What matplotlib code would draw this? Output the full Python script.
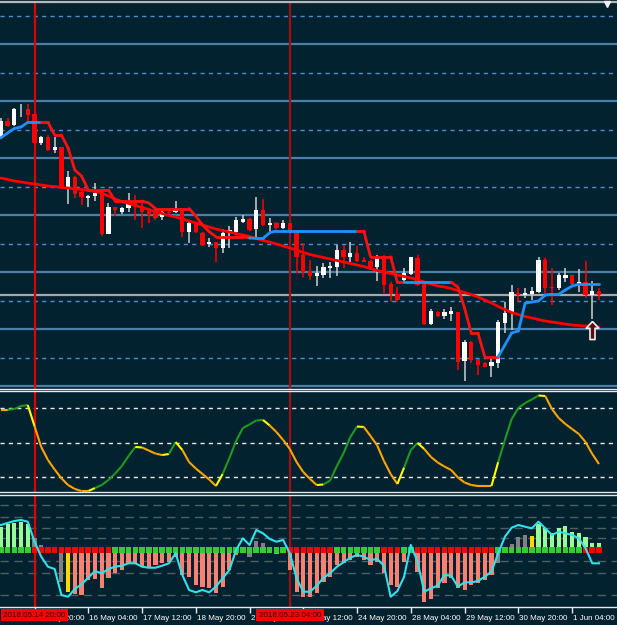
import matplotlib
matplotlib.use("Agg")
import matplotlib.pyplot as plt
import numpy as np
from matplotlib.collections import LineCollection
from matplotlib.path import Path
from matplotlib.transforms import ScaledTranslation, blended_transform_factory

# ---------------- data ----------------
opens = [1.19368, 1.19654, 1.19579, 1.19854, 1.19860, 1.19772, 1.19263, 1.19368, 1.19140, 1.19188,
         1.18456, 1.18672, 1.18409, 1.18304, 1.18333, 1.18398, 1.17667, 1.18140, 1.18053, 1.18118,
         1.18205, 1.18158, 1.18070, 1.18047, 1.17970, 1.18044, 1.18047, 1.18088, 1.17702, 1.17854,
         1.17679, 1.17491, 1.17521, 1.17416, 1.17679, 1.17696, 1.17872, 1.17930, 1.17749, 1.18088,
         1.17825, 1.17865, 1.17777, 1.17854, 1.17679, 1.17298, 1.17018, 1.16935, 1.16947, 1.17065,
         1.17093, 1.17386, 1.17268, 1.17328, 1.17211, 1.17193, 1.17082, 1.17268, 1.16784, 1.16614,
         1.16860, 1.16960, 1.17251, 1.16784, 1.16082, 1.16304, 1.16233, 1.16268, 1.16298, 1.15439,
         1.15777, 1.15474, 1.15409, 1.15356, 1.15398, 1.16100, 1.16275, 1.16626, 1.16596, 1.16609,
         1.16654, 1.17211, 1.16742, 1.16714, 1.16889, 1.16947, 1.16772, 1.16819, 1.16596, 1.16667]
highs = [1.19702, 1.19702, 1.19882, 1.19947, 1.19947, 1.19789, 1.19386, 1.19404, 1.19374, 1.19193,
         1.18772, 1.18684, 1.18426, 1.18351, 1.18561, 1.18404, 1.18205, 1.18149, 1.18146, 1.18381,
         1.18351, 1.18246, 1.18123, 1.18058, 1.18079, 1.18070, 1.18246, 1.18096, 1.17877, 1.17868,
         1.17707, 1.17591, 1.17535, 1.17749, 1.17812, 1.17970, 1.18000, 1.17939, 1.18311, 1.18281,
         1.17953, 1.17877, 1.17912, 1.17868, 1.17693, 1.17504, 1.17211, 1.17111, 1.17153, 1.17170,
         1.17474, 1.17474, 1.17532, 1.17461, 1.17263, 1.17202, 1.17298, 1.17298, 1.16830, 1.16742,
         1.17065, 1.17272, 1.17298, 1.16789, 1.16351, 1.16316, 1.16351, 1.16391, 1.16307, 1.15807,
         1.15798, 1.15482, 1.15421, 1.15486, 1.16158, 1.16479, 1.16772, 1.16714, 1.16714, 1.16742,
         1.17268, 1.17240, 1.17065, 1.16977, 1.17075, 1.16956, 1.17053, 1.17193, 1.16842, 1.16714]
lows = [1.19333, 1.19544, 1.19567, 1.19719, 1.19649, 1.19254, 1.19228, 1.19123, 1.19093, 1.18456,
        1.18193, 1.18298, 1.18175, 1.18146, 1.18246, 1.17637, 1.17658, 1.17988, 1.18018, 1.18058,
        1.17912, 1.17772, 1.17860, 1.17912, 1.17912, 1.18009, 1.18040, 1.17609, 1.17504, 1.17684,
        1.17456, 1.17444, 1.17181, 1.17328, 1.17426, 1.17649, 1.17860, 1.17719, 1.17574, 1.17807,
        1.17689, 1.17754, 1.17763, 1.17661, 1.16988, 1.16918, 1.16860, 1.16754, 1.16900, 1.16900,
        1.16935, 1.17065, 1.17170, 1.17184, 1.17167, 1.17079, 1.16842, 1.16626, 1.16468, 1.16468,
        1.16830, 1.16947, 1.16760, 1.16079, 1.16070, 1.16219, 1.16175, 1.16140, 1.15281, 1.15088,
        1.15404, 1.15193, 1.15325, 1.15163, 1.15311, 1.15925, 1.15982, 1.16479, 1.16539, 1.16509,
        1.16626, 1.16596, 1.16421, 1.16684, 1.16830, 1.16754, 1.16654, 1.16539, 1.16175, 1.16509]
closes = [1.19649, 1.19567, 1.19860, 1.19865, 1.19754, 1.19268, 1.19363, 1.19140, 1.19198, 1.18468,
          1.18672, 1.18363, 1.18321, 1.18339, 1.18386, 1.17667, 1.18140, 1.18082, 1.18118, 1.18205,
          1.18146, 1.18047, 1.18000, 1.17953, 1.18058, 1.18035, 1.18100, 1.17707, 1.17854, 1.17702,
          1.17474, 1.17532, 1.17426, 1.17689, 1.17737, 1.17912, 1.17930, 1.17737, 1.18088, 1.17825,
          1.17865, 1.17777, 1.17854, 1.17684, 1.17268, 1.17005, 1.16935, 1.16977, 1.17082, 1.17111,
          1.17386, 1.17268, 1.17328, 1.17198, 1.17181, 1.17093, 1.17268, 1.16772, 1.16609, 1.16509,
          1.16988, 1.17258, 1.16772, 1.16088, 1.16316, 1.16233, 1.16293, 1.16316, 1.15426, 1.15777,
          1.15456, 1.15368, 1.15339, 1.15426, 1.16128, 1.16275, 1.16654, 1.16596, 1.16637, 1.16667,
          1.17211, 1.16714, 1.16714, 1.16947, 1.16947, 1.16789, 1.16819, 1.16596, 1.16667, 1.16596]

ma_line = [1.18649, 1.18623, 1.18596, 1.18579, 1.18561, 1.18544, 1.18526, 1.18509, 1.18500, 1.18482,
           1.18474, 1.18456, 1.18447, 1.18430, 1.18412, 1.18386, 1.18333, 1.18281, 1.18237, 1.18202,
           1.18167, 1.18132, 1.18096, 1.18061, 1.18026, 1.17991, 1.17965, 1.17930, 1.17895, 1.17860,
           1.17825, 1.17789, 1.17754, 1.17728, 1.17702, 1.17675, 1.17649, 1.17623, 1.17588, 1.17553,
           1.17526, 1.17491, 1.17456, 1.17421, 1.17386, 1.17342, 1.17307, 1.17281, 1.17254, 1.17228,
           1.17202, 1.17175, 1.17149, 1.17123, 1.17096, 1.17061, 1.17026, 1.17000, 1.16974, 1.16947,
           1.16921, 1.16895, 1.16860, 1.16825, 1.16789, 1.16754, 1.16737, 1.16711, 1.16675, 1.16640,
           1.16605, 1.16561, 1.16509, 1.16456, 1.16395, 1.16342, 1.16289, 1.16254, 1.16219, 1.16193,
           1.16167, 1.16140, 1.16123, 1.16105, 1.16088, 1.16070, 1.16061, 1.16053, 1.16044, 1.16035]

trail = [1.19356, 1.19439, 1.19518, 1.19544, 1.19626, 1.19626, 1.19626, 1.19626, 1.19404, 1.19404,
         1.19175, 1.18789, 1.18684, 1.18439, 1.18439, 1.18439, 1.18439, 1.18246, 1.18246, 1.18246,
         1.18246, 1.18246, 1.18211, 1.18114, 1.18114, 1.18114, 1.18114, 1.18114, 1.18114, 1.17982,
         1.17825, 1.17707, 1.17619, 1.17619, 1.17619, 1.17619, 1.17619, 1.17596, 1.17591, 1.17591,
         1.17689, 1.17719, 1.17719, 1.17719, 1.17719, 1.17719, 1.17719, 1.17719, 1.17719, 1.17719,
         1.17719, 1.17719, 1.17719, 1.17719, 1.17719, 1.17268, 1.17268, 1.17268, 1.17268, 1.16819,
         1.16819, 1.16819, 1.16819, 1.16819, 1.16819, 1.16819, 1.16819, 1.16819, 1.16737, 1.16368,
         1.15925, 1.15925, 1.15514, 1.15514, 1.15514, 1.15719, 1.15930, 1.15965, 1.16451, 1.16474,
         1.16491, 1.16596, 1.16609, 1.16609, 1.16684, 1.16754, 1.16784, 1.16784, 1.16784, 1.16784]
trail_down_ranges = [(6, 37), (53, 60), (67, 74)]

osc = [78.3, 78.3, 79.1, 81.7, 82.6, 64.3, 46.1, 34.8, 26.5, 18.9,
       13.0, 9.6, 7.8, 7.8, 10.4, 13.0, 17.4, 23.0, 29.6, 38.3,
       46.1, 45.7, 43.0, 40.4, 39.1, 40.0, 50.4, 43.5, 33.0, 27.4,
       22.6, 17.8, 12.2, 22.6, 36.5, 51.3, 62.6, 65.7, 69.1, 69.6,
       64.8, 59.1, 52.2, 44.3, 33.0, 24.3, 18.3, 13.0, 13.5, 17.0,
       29.6, 40.9, 54.8, 63.9, 63.5, 55.7, 47.4, 33.9, 22.6, 13.9,
       28.3, 43.5, 49.6, 44.3, 37.4, 32.6, 29.1, 26.1, 19.6, 15.2,
       13.0, 12.2, 12.2, 12.2, 33.0, 52.2, 70.4, 80.0, 84.3, 87.4,
       90.9, 90.4, 79.1, 71.3, 66.1, 61.7, 57.4, 50.4, 40.0, 31.3]
osc_levels = [20, 50, 80]

hist = [23.3, 25.7, 26.7, 27.7, 25.7, 11.7, 5.0, -1.0, -2.0, -31.7,
        -41.7, -44.3, -45.0, -30.0, -29.0, -37.7, -28.3, -23.3, -20.0, -13.3,
        -13.3, -16.7, -16.7, -15.0, -13.3, -11.7, -6.7, -25.0, -26.7, -35.0,
        -36.7, -38.3, -43.3, -36.7, -20.0, -5.0, 0.0, -6.7, 9.0, 6.7,
        0.0, -4.3, 0.0, -20.0, -41.7, -46.7, -46.7, -43.3, -31.7, -26.7,
        -15.0, -13.3, -10.0, -6.7, -10.0, -15.0, -11.7, -23.3, -35.0, -36.7,
        -11.7, -3.3, -21.7, -52.3, -49.0, -38.3, -33.3, -28.3, -38.3, -40.0,
        -35.0, -33.3, -30.0, -25.0, -13.3, 1.0, 5.7, 13.3, 15.0, 14.3,
        25.7, 21.7, 16.7, 22.3, 24.0, 17.7, 16.7, 13.3, 6.7, 6.7]
hist_color_codes = ("GGGGGN" "NNNNY" "RRRRRRRRRRRRRRRRRRRRRRRR" "RRNNNRR"
                    "RRRRRRRRRRRRRRRRRRRRRRRRRRRRRRRR" "NNNNNY" "GGGGGGGGG")
signal = [25.0, 27.0, 29.0, 30.0, 28.3, 8.3, -6.7, -16.7, -19.0, -45.0,
          -46.7, -39.0, -34.3, -27.7, -21.0, -23.3, -19.0, -16.7, -15.7, -13.3,
          -13.3, -16.7, -17.7, -17.7, -15.7, -13.3, -3.3, -25.0, -40.0, -42.3,
          -40.0, -42.3, -36.7, -28.3, -20.0, 0.0, 11.7, 5.0, 20.0, 16.7,
          11.0, 8.3, 10.0, -3.3, -28.3, -41.7, -41.7, -35.7, -27.7, -23.3,
          -16.7, -12.3, -7.7, -5.0, -6.7, -10.0, -9.0, -15.7, -46.7, -41.0,
          -26.7, 5.0, -11.7, -41.7, -38.3, -35.7, -25.0, -25.7, -36.7, -32.3,
          -32.3, -31.0, -26.7, -21.7, -3.3, 13.3, 22.3, 25.0, 23.3, 21.7,
          28.3, 21.7, 15.0, 18.3, 16.7, 15.0, 11.7, 1.7, -13.3, -13.3]
zero_state = ("ggggg" "rrrrrrrrrrrr" "gggggggggggggggggggggggggg" "rrrrrrr"
              "ggggggg" "rrr" "gg" "rrrrrrrrrrrr" "ggggggggggggg" "rrr")
hist_levels = [45, 33, 22, 12, -11, -23, -45]

tick_bars = [5, 13, 21, 29, 37, 45, 53, 61, 69, 77, 85]
tick_labels = ["14 May 20:00", "16 May 04:00", "17 May 12:00", "18 May 20:00", "22 May 04:00",
               "23 May 12:00", "24 May 20:00", "28 May 04:00", "29 May 12:00", "30 May 20:00",
               "1 Jun 04:00"]
marker_bars = [5, 43]
marker_labels = ["2018.05.14 20:00", "2018.05.23 04:00"]
marker_colors = ["#e00000", "#a01010"]
major_levels = [1.15, 1.16, 1.17, 1.18, 1.19, 1.20, 1.21]
minor_levels = [1.155, 1.165, 1.175, 1.185, 1.195, 1.205, 1.215]
signal_bar, signal_price = 88, 1.1598

# ---------------- style ----------------
BG = "#03222f"
W, H = 617, 625
XMIN, XMAX = -0.134, 91.68
LABEL_FONT = dict(fontsize=5.8, fontfamily="Liberation Sans")

fig = plt.figure(figsize=(W / 100, H / 100), dpi=100, facecolor=BG)


def rect(top, bottom):
    return [0, 1 - bottom / H, 1, (bottom - top) / H]


ax = fig.add_axes(rect(2, 389))
axo = fig.add_axes(rect(391, 492))
axh = fig.add_axes(rect(494.5, 607))

for a in (ax, axo, axh):
    a.set_facecolor(BG)
    a.set_xlim(XMIN, XMAX)
    a.set_yticks([])
    for s in ("left", "right"):
        a.spines[s].set_visible(False)
    for s in ("top", "bottom"):
        a.spines[s].set_color("#e8e8e8")
        a.spines[s].set_linewidth(1)
    for b, c in zip(marker_bars, marker_colors):
        a.axvline(b, color=c, lw=1.6, zorder=1.3)
ax.spines["top"].set_color("#b8b8b8")
ax.spines["top"].set_linewidth(1.6)
ax.set_xticks([])
axo.set_xticks([])

x = np.arange(len(opens))
o = np.array(opens); h = np.array(highs); l = np.array(lows); c = np.array(closes)

# ---- main panel ----
ax.set_ylim(1.149474, 1.21737)
for lv in major_levels:
    ax.axhline(lv, color="#4a7fa8", lw=1.6, zorder=1)
for lv in minor_levels:
    ax.axhline(lv, color="#4a8fd6", lw=1, dashes=(3, 3), zorder=1)
ax.axhline(closes[-1], color="#a8a8a8", lw=1.6, zorder=1.2)

up = c >= o
body_bottom = np.minimum(o, c)
body_h = np.maximum(np.abs(c - o), 0.00004)
ax.vlines(x, l, h, colors=np.where(up, "#d0d0d0", "#ff0000"), lw=1.1, zorder=3)
ax.bar(x, body_h, bottom=body_bottom, width=0.64,
       color=np.where(up, "#ffffff", "#ff0000"), linewidth=0, zorder=3.1)

ax.plot(x, ma_line, color="#ff0000", lw=2, zorder=4, solid_capstyle="round")

tr = np.array(trail)
segs = [[(x[i], tr[i]), (x[i + 1], tr[i + 1])] for i in range(len(tr) - 1)]
seg_cols = []
for i in range(len(tr) - 1):
    down = any(a0 <= i < a1 for a0, a1 in trail_down_ranges)
    seg_cols.append("#ff1010" if down else "#1e90ff")
ax.add_collection(LineCollection(segs, colors=seg_cols, linewidths=2, zorder=4.2,
                                 capstyle="round"))

arrow = Path([(0, 1), (0.7, 0.25), (0.28, 0.25), (0.28, -1), (-0.28, -1),
              (-0.28, 0.25), (-0.7, 0.25), (0, 1)])
ax.plot([signal_bar], [signal_price], marker=arrow, ms=13, mfc="#5a1010",
        mec="#f0f0f0", mew=1.2, zorder=5)
ax.plot([0.984], [0.994], marker="v", ms=5, color="#f0f0f0", transform=ax.transAxes,
        clip_on=False, zorder=6)

# ---- oscillator ----
axo.set_ylim(6.96, 94.78)
for lv in osc_levels:
    axo.axhline(lv, color="#e8e8e8", lw=1, dashes=(3, 3), zorder=1)
ov = np.array(osc)
osegs = [[(x[i], ov[i]), (x[i + 1], ov[i + 1])] for i in range(len(ov) - 1)]
ocols = []
prev = None
for i in range(len(ov) - 1):
    d = ov[i + 1] - ov[i]
    cur = "up" if d > 0 else ("dn" if d < 0 else prev)
    if prev is not None and cur != prev:
        ocols.append("#ffff00")
    else:
        ocols.append("#1e9a1e" if cur == "up" else "#ffa500")
    prev = cur
axo.add_collection(LineCollection(osegs, colors=ocols, linewidths=1.5, zorder=3))

# ---- histogram ----
axh.set_ylim(-57, 55.5)
for lv in hist_levels:
    axh.axhline(lv, color="#4e5f68", lw=1, dashes=(6, 4), zorder=1)
cmap = {"G": "#98fb98", "R": "#fa8072", "N": "#808080", "Y": "#ffd700"}
axh.bar(x, hist, width=0.62, color=[cmap[k] for k in hist_color_codes],
        linewidth=0, zorder=2)
zcol = {"g": "#32cd32", "r": "#ff0000"}
axh.scatter(x, np.zeros(len(x)), marker="s", s=16, linewidths=0,
            c=[zcol[k] for k in zero_state], zorder=3)
axh.plot(x, signal, color="#2fe3ec", lw=1.5, zorder=4)

axh.set_xticks(tick_bars)
axh.set_xticklabels(tick_labels, ha="left", color="white", **LABEL_FONT)
axh.tick_params(axis="x", colors="#e8e8e8", length=4, width=1, pad=2,
                labelcolor="white")
offset = ScaledTranslation(1.0 / 100, 0, fig.dpi_scale_trans)
for lbl in axh.get_xticklabels():
    lbl.set_transform(lbl.get_transform() + offset)

btrans = blended_transform_factory(axh.transData, axh.transAxes)
for b, txt in zip(marker_bars, marker_labels):
    axh.text(b, -0.075, txt, transform=btrans, ha="center", va="center",
             color="#2a0000", bbox=dict(facecolor="#ff0000", edgecolor="none", pad=1.8),
             clip_on=False, zorder=10, **LABEL_FONT)

fig.savefig("out.png", dpi=100, facecolor=BG)
